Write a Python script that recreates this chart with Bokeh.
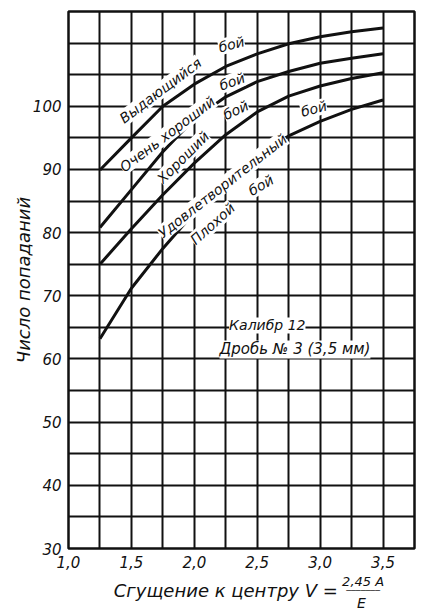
from bokeh.plotting import figure
from bokeh.models import Range1d, FixedTicker, Label, Title
from bokeh.layouts import column
from bokeh.embed import file_html
from bokeh.resources import INLINE

# ---- data ----
x_vals = [1.25, 1.5, 1.75, 2.0, 2.25, 2.5, 2.75, 3.0, 3.25, 3.5]
outstanding = [89.9, 95.0, 100.0, 103.5, 106.3, 108.3, 109.9, 111.0, 111.8, 112.4]
very_good = [80.8, 86.8, 92.8, 98.0, 101.5, 103.9, 105.5, 106.8, 107.6, 108.3]
good = [75.0, 80.6, 86.0, 91.0, 95.5, 99.1, 101.6, 103.2, 104.4, 105.3]
satisfactory = [63.2, 71.2, 77.5, 83.2, 88.0, 92.2, 95.3, 97.6, 99.5, 101.0]

x_ticks = [1.0, 1.5, 2.0, 2.5, 3.0, 3.5]
x_tick_labels = ["1,0", "1,5", "2,0", "2,5", "3,0", "3,5"]
y_ticks = [30, 40, 50, 60, 70, 80, 90, 100]
x_grid = [1.25, 1.5, 1.75, 2.0, 2.25, 2.5, 2.75, 3.0, 3.25, 3.5]
y_grid = [35, 40, 45, 50, 55, 60, 65, 70, 75, 80, 85, 90, 95, 100, 105, 110]

# curve labels: text, x, y, angle(deg)
label_texts = ["Выдающийся", "бой", "Очень хороший", "бой", "Хороший", "бой",
               "Удовлетворительный", "бой", "Плохой", "бой"]
label_x = [1.731, 2.295, 1.787, 2.30, 1.91, 2.33, 2.224, 2.95, 2.145, 2.53]
label_y = [102.5, 109.8, 95.6, 103.9, 91.9, 99.4, 87.4, 99.6, 81.4, 87.5]
label_angle = [37, 14, 37, 20, 45, 25, 38, 15, 42, 30]

FONT = "DejaVu Sans"
INK = "#111111"

p = figure(width=424, height=574, output_backend="svg", toolbar_location=None,
           x_range=Range1d(1.0, 3.75), y_range=Range1d(30, 115),
           min_border_left=68, min_border_right=10, min_border_top=11,
           min_border_bottom=26)

p.outline_line_color = INK
p.outline_line_width = 2.5
p.background_fill_color = "white"
p.border_fill_color = "white"

# grids
p.xgrid.ticker = FixedTicker(ticks=x_grid)
p.ygrid.ticker = FixedTicker(ticks=y_grid)
for g in (p.xgrid, p.ygrid):
    g.grid_line_color = INK
    g.grid_line_width = 2
    g.grid_line_alpha = 1.0

# axes
p.xaxis.ticker = FixedTicker(ticks=x_ticks)
p.xaxis.major_label_overrides = {t: s for t, s in zip(x_ticks, x_tick_labels)}
p.yaxis.ticker = FixedTicker(ticks=y_ticks)
for ax in (p.xaxis, p.yaxis):
    ax.axis_line_color = None
    ax.major_tick_line_color = None
    ax.minor_tick_line_color = None
    ax.major_tick_out = 0
    ax.major_tick_in = 0
    ax.minor_tick_out = 0
    ax.minor_tick_in = 0
    ax.major_label_text_font = FONT
    ax.major_label_text_font_style = "italic"
    ax.major_label_text_font_size = "15px"
    ax.major_label_text_color = INK
p.yaxis.major_label_standoff = 7
p.xaxis.major_label_standoff = 7

# y axis title
p.add_layout(Title(text="Число попаданий", align="center", offset=-54,
                   text_font=FONT, text_font_style="italic", text_font_size="18px",
                   text_color=INK, standoff=-8), "left")

# curves
for ys in (outstanding, very_good, good, satisfactory):
    p.line(x_vals, ys, line_color=INK, line_width=3)

# curve labels
for t, lx, ly, ang in zip(label_texts, label_x, label_y, label_angle):
    p.add_layout(Label(x=lx, y=ly, text=t, angle=ang, angle_units="deg",
                       text_align="center", text_baseline="middle",
                       text_font=FONT, text_font_style="italic",
                       text_font_size="14px", text_color=INK,
                       background_fill_color="white", background_fill_alpha=1.0))

# inset notes
p.add_layout(Label(x=2.58, y=65.3, text="Калибр 12", text_align="center",
                   text_baseline="middle", text_font=FONT, text_font_style="italic",
                   text_font_size="14px", text_color=INK,
                   background_fill_color="white", background_fill_alpha=1.0))
p.add_layout(Label(x=2.80, y=61.5, text="Дробь № 3 (3,5 мм)", text_align="center",
                   text_baseline="middle", text_font=FONT, text_font_style="italic",
                   text_font_size="15px", text_color=INK,
                   background_fill_color="white", background_fill_alpha=1.0))

# x axis title strip (separate figure so the text is not clipped)
q = figure(width=424, height=41, output_backend="svg", toolbar_location=None,
           x_range=Range1d(0, 424), y_range=Range1d(41, 0),
           min_border=0, x_axis_location=None, y_axis_location=None)
q.outline_line_color = None
q.xgrid.visible = False
q.ygrid.visible = False
q.background_fill_color = "white"
q.border_fill_color = "white"

q.add_layout(Label(x=330, y=16, text="Сгущение к центру V =", text_align="right",
                   text_baseline="middle", text_font=FONT, text_font_style="italic",
                   text_font_size="18px", text_color=INK))
q.add_layout(Label(x=361, y=7, text="2,45 A", text_align="center",
                   text_baseline="middle", text_font=FONT, text_font_style="italic",
                   text_font_size="13px", text_color=INK))
q.add_layout(Label(x=361, y=16, text="───────", text_align="center",
                   text_baseline="middle", text_font=FONT,
                   text_font_size="8px", text_color=INK))
q.add_layout(Label(x=359, y=28, text="E", text_align="center",
                   text_baseline="middle", text_font=FONT, text_font_style="italic",
                   text_font_size="14px", text_color=INK))

open("out.html", "w").write(file_html(column(p, q, spacing=0), INLINE))
